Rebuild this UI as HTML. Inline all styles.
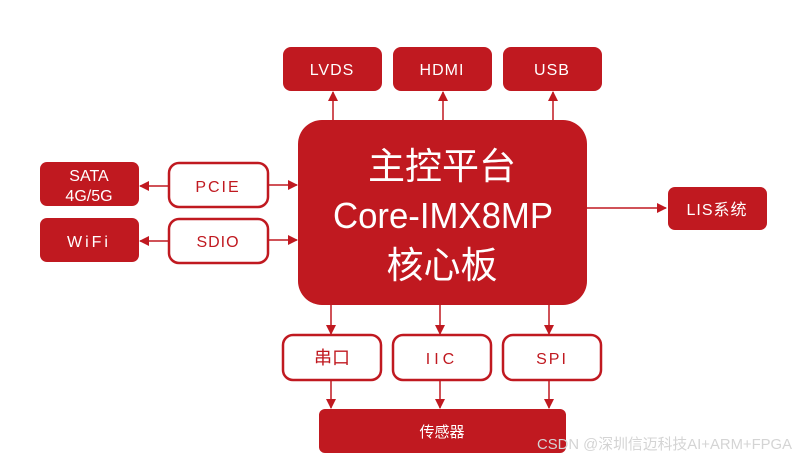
<!DOCTYPE html>
<html><head><meta charset="utf-8"><style>
body{margin:0;background:#fff;width:800px;height:460px;overflow:hidden}
</style></head><body>
<svg width="800" height="460" xmlns="http://www.w3.org/2000/svg" font-family="'Liberation Sans','Noto Sans CJK SC',sans-serif">
<defs><marker id="a" markerWidth="10" markerHeight="10" refX="9" refY="5" orient="auto" markerUnits="userSpaceOnUse"><path d="M0,0 L10,5 L0,10 Z" fill="#c01920"/></marker></defs>
<g fill="#c01920">
<rect x="283" y="47" width="99" height="44" rx="8"/>
<rect x="393" y="47" width="99" height="44" rx="8"/>
<rect x="503" y="47" width="99" height="44" rx="8"/>
<rect x="298" y="120" width="289" height="185" rx="24"/>
<rect x="40" y="162" width="99" height="44" rx="7"/>
<rect x="40" y="218" width="99" height="44" rx="7"/>
<rect x="668" y="187" width="99" height="43" rx="7"/>
<rect x="319" y="409" width="247" height="44" rx="6"/>
</g>
<g fill="#fff" stroke="#c01920" stroke-width="2.5">
<rect x="169" y="163" width="99" height="44" rx="10"/>
<rect x="169" y="219" width="99" height="44" rx="10"/>
<rect x="283" y="335" width="98" height="45" rx="10"/>
<rect x="393" y="335" width="98" height="45" rx="10"/>
<rect x="503" y="335" width="98" height="45" rx="10"/>
</g>
<g stroke="#c01920" stroke-width="1.5" marker-end="url(#a)">
<line x1="333" y1="120" x2="333" y2="92"/>
<line x1="443" y1="120" x2="443" y2="92"/>
<line x1="553" y1="120" x2="553" y2="92"/>
<line x1="168" y1="186" x2="140" y2="186"/>
<line x1="168" y1="241" x2="140" y2="241"/>
<line x1="268" y1="185" x2="297" y2="185"/>
<line x1="268" y1="240" x2="297" y2="240"/>
<line x1="587" y1="208" x2="666" y2="208"/>
<line x1="331" y1="305" x2="331" y2="334"/>
<line x1="440" y1="305" x2="440" y2="334"/>
<line x1="549" y1="305" x2="549" y2="334"/>
<line x1="331" y1="380" x2="331" y2="408"/>
<line x1="440" y1="380" x2="440" y2="408"/>
<line x1="549" y1="380" x2="549" y2="408"/>
</g>
<g fill="#fff" text-anchor="middle" font-size="16">
<text x="332" y="75" letter-spacing="1">LVDS</text>
<text x="442" y="75" letter-spacing="1">HDMI</text>
<text x="552" y="75" letter-spacing="1">USB</text>
<text x="89" y="181" font-size="16">SATA</text>
<text x="89" y="201" font-size="16">4G/5G</text>
<text x="89" y="247" letter-spacing="3">WiFi</text>
<text x="717" y="215" letter-spacing="1">LIS系统</text>
<text x="442" y="437" font-size="15">传感器</text>
<text x="442" y="179" font-size="37">主控平台</text>
<text x="443" y="228" font-size="36" textLength="220" lengthAdjust="spacingAndGlyphs">Core-IMX8MP</text>
<text x="442" y="278" font-size="37">核心板</text>
</g>
<g fill="#c01920" text-anchor="middle" font-size="16">
<text x="218" y="192" letter-spacing="2">PCIE</text>
<text x="218" y="247" letter-spacing="1">SDIO</text>
<text x="332" y="364" font-size="18">串口</text>
<text x="442" y="364" letter-spacing="4">IIC</text>
<text x="552" y="364" letter-spacing="2">SPI</text>
</g>
<text x="792" y="449" text-anchor="end" font-size="15" fill="#d4d4d4" textLength="255" lengthAdjust="spacingAndGlyphs">CSDN @深圳信迈科技AI+ARM+FPGA</text>
</svg>
</body></html>
